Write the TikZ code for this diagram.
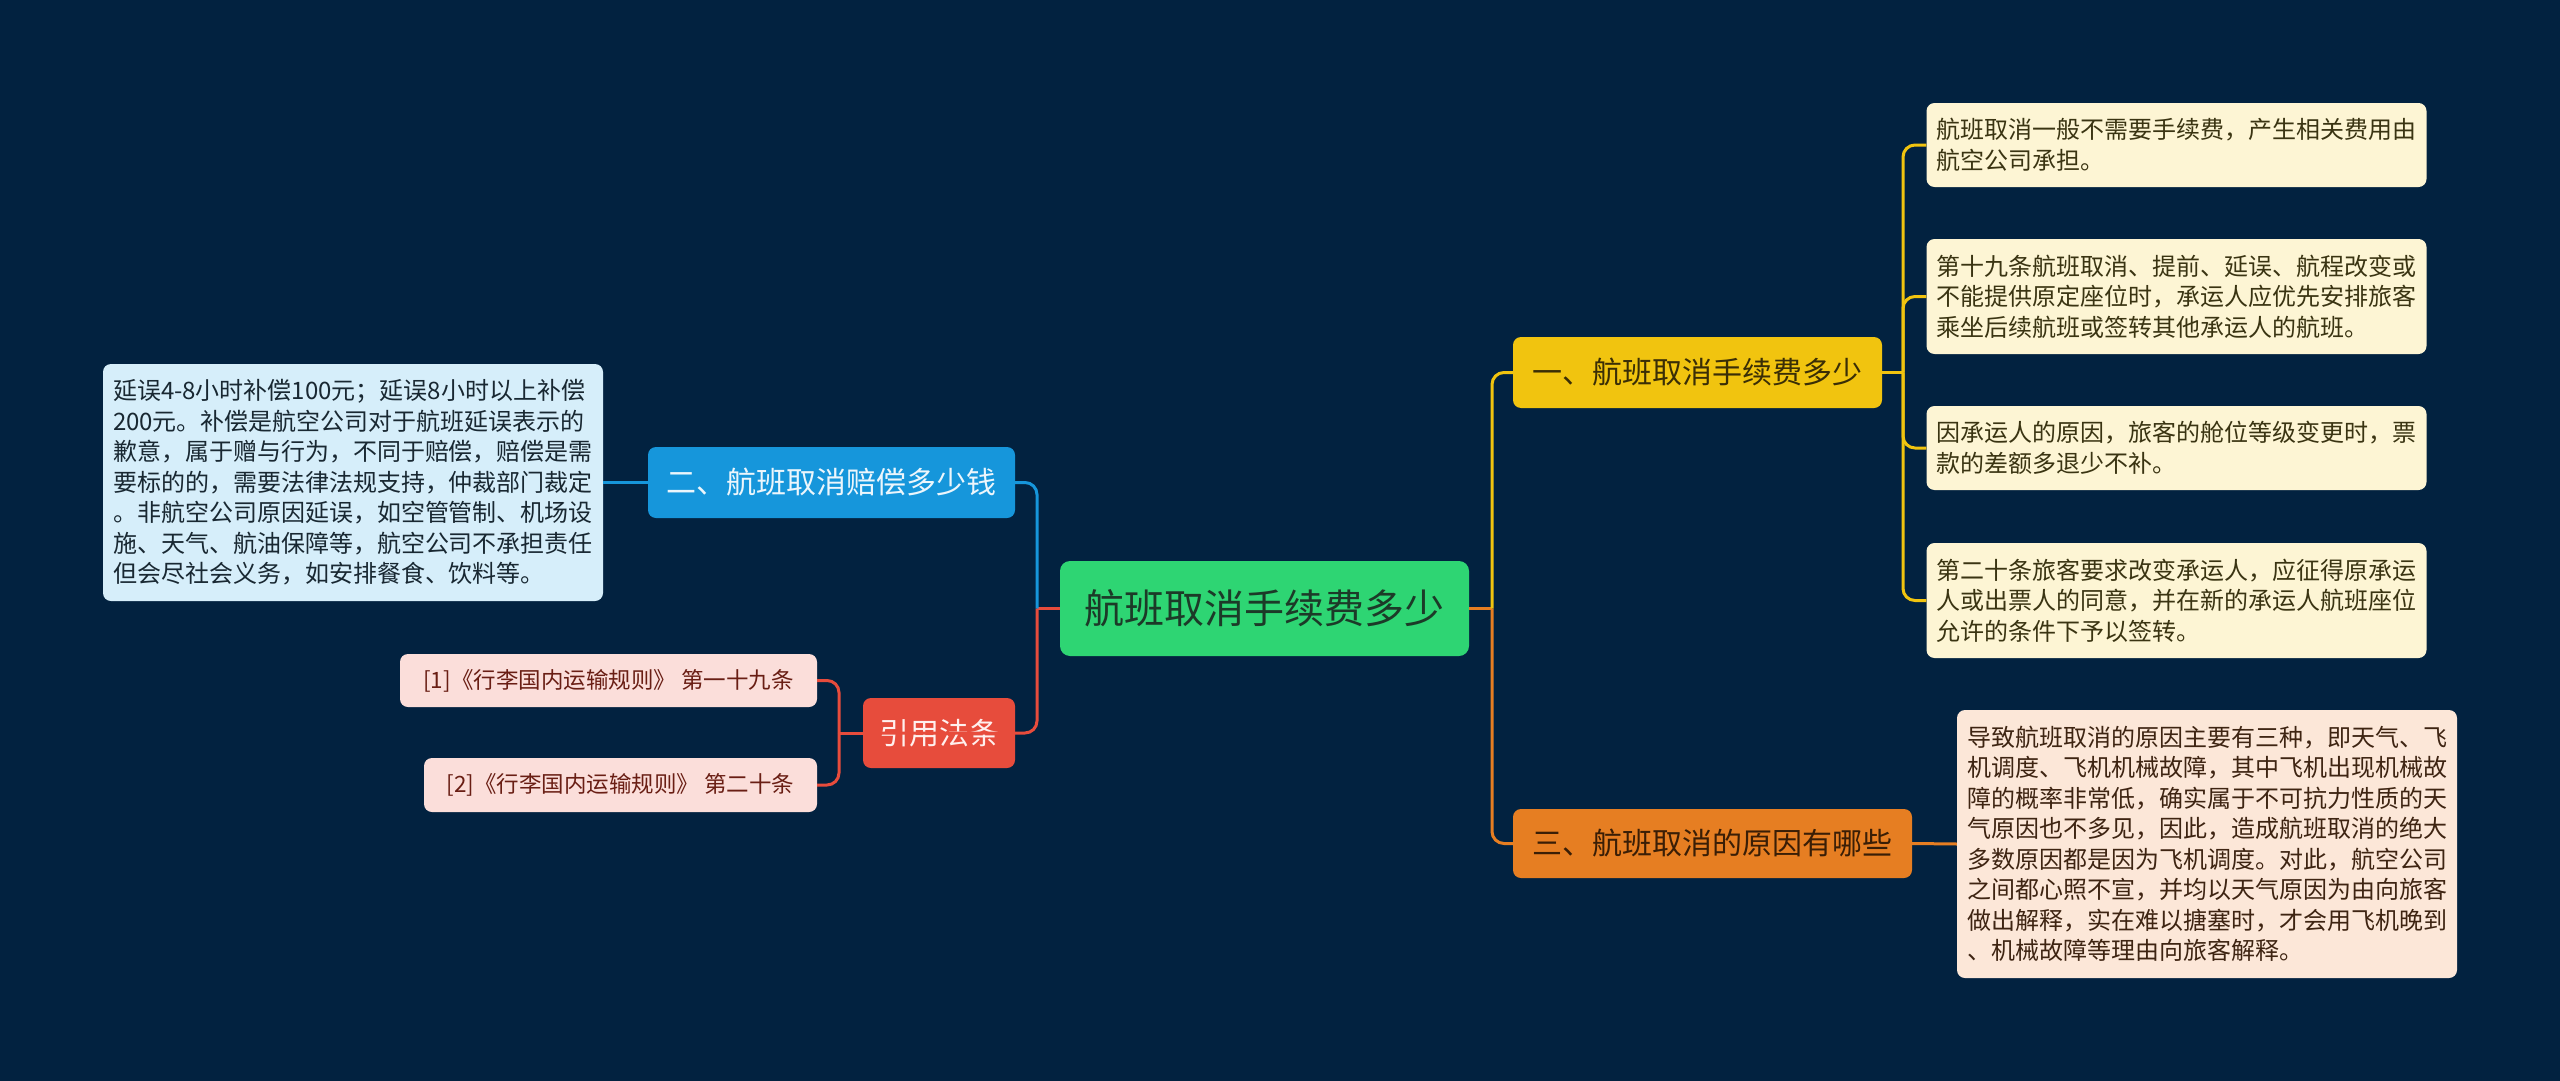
\documentclass[tikz,border=0pt]{standalone}
\usepackage{fontspec}
\setmainfont{Noto Sans CJK SC}
\definecolor{bg}{RGB}{2,34,64}
\definecolor{cgreen}{RGB}{46,213,115}
\definecolor{cgreentxt}{RGB}{28,58,40}
\definecolor{cyellow}{RGB}{241,196,15}
\definecolor{cyellowtxt}{RGB}{58,46,6}
\definecolor{corange}{RGB}{230,126,34}
\definecolor{corangetxt}{RGB}{58,30,6}
\definecolor{cblue}{RGB}{22,150,219}
\definecolor{cbluetxt}{RGB}{236,246,252}
\definecolor{cred}{RGB}{231,76,60}
\definecolor{credtxt}{RGB}{255,240,238}
\definecolor{fpink}{RGB}{251,222,218}
\definecolor{tpink}{RGB}{105,30,20}
\definecolor{fcream}{RGB}{253,245,212}
\definecolor{tcream}{RGB}{58,52,18}
\definecolor{fpeach}{RGB}{252,231,216}
\definecolor{tpeach}{RGB}{62,36,18}
\definecolor{flblue}{RGB}{214,238,250}
\definecolor{tlblue}{RGB}{25,40,50}
\begin{document}
\begin{tikzpicture}[x=1pt,y=-1pt,
  topic/.style={rounded corners=8pt, inner sep=0pt, align=center, font=\fontsize{30}{36}\selectfont},
  maintopic/.style={rounded corners=10pt, inner sep=0pt, align=center, fill=cgreen, text=cgreentxt,
    minimum width=409pt, minimum height=95pt, font=\fontsize{40}{48}\selectfont},
  leaf/.style={rounded corners=8pt, inner xsep=10pt, inner ysep=0pt, text width=480pt, align=left,
    font=\fontsize{24}{30.5}\selectfont},
  refbox/.style={rounded corners=8pt, inner sep=0pt, align=center, fill=fpink, text=tpink,
    font=\fontsize{22.5}{27}\selectfont},
  conn/.style={line width=3pt},
  elbow/.style={conn, rounded corners=12pt}
]
\fill[bg] (0,0) rectangle (2560,1081);
\useasboundingbox (0,0) rectangle (2560,1081);

% main
\node[maintopic] (root) at (1264.5,608.5) {航班取消手续费多少};

% first level
\node[topic, fill=cyellow, text=cyellowtxt, minimum width=369pt, minimum height=71pt] (t1) at (1697.5,372.5) {一、航班取消手续费多少};
\node[topic, fill=corange, text=corangetxt, minimum width=399pt, minimum height=69pt] (t3) at (1712.5,843.5) {三、航班取消的原因有哪些};
\node[topic, fill=cblue, text=cbluetxt, minimum width=367pt, minimum height=71pt] (t2) at (831.5,482.5) {二、航班取消赔偿多少钱};
\node[topic, fill=cred, text=credtxt, minimum width=152pt, minimum height=70pt] (tr) at (939,733) {引用法条};

% refs
\node[refbox, minimum width=417pt, minimum height=53pt] (r1) at (608.5,680.5) {[1]《行李国内运输规则》 第一十九条};
\node[refbox, minimum width=393pt, minimum height=54pt] (r2) at (620.5,785) {[2]《行李国内运输规则》 第二十条};

% leaves of t1
\node[leaf, fill=fcream, text=tcream, minimum height=84pt] (a1) at (2176.5,145) {航班取消一般不需要手续费，产生相关费用由\\航空公司承担。};
\node[leaf, fill=fcream, text=tcream, minimum height=115pt] (a2) at (2176.5,296.5) {第十九条航班取消、提前、延误、航程改变或\\不能提供原定座位时，承运人应优先安排旅客\\乘坐后续航班或签转其他承运人的航班。};
\node[leaf, fill=fcream, text=tcream, minimum height=84pt] (a3) at (2176.5,448) {因承运人的原因，旅客的舱位等级变更时，票\\款的差额多退少不补。};
\node[leaf, fill=fcream, text=tcream, minimum height=115pt] (a4) at (2176.5,600.5) {第二十条旅客要求改变承运人，应征得原承运\\人或出票人的同意，并在新的承运人航班座位\\允许的条件下予以签转。};

% leaf of t3
\node[leaf, fill=fpeach, text=tpeach, minimum height=268pt] (c1) at (2207,844) {导致航班取消的原因主要有三种，即天气、飞\\机调度、飞机机械故障，其中飞机出现机械故\\障的概率非常低，确实属于不可抗力性质的天\\气原因也不多见，因此，造成航班取消的绝大\\多数原因都是因为飞机调度。对此，航空公司\\之间都心照不宣，并均以天气原因为由向旅客\\做出解释，实在难以搪塞时，才会用飞机晚到\\、机械故障等理由向旅客解释。};

% leaf of t2
\node[leaf, fill=flblue, text=tlblue, minimum height=237pt] (b1) at (353,482.5) {延误4-8小时补偿100元；延误8小时以上补偿\\200元。补偿是航空公司对于航班延误表示的\\歉意，属于赠与行为，不同于赔偿，赔偿是需\\要标的的，需要法律法规支持，仲裁部门裁定\\。非航空公司原因延误，如空管管制、机场设\\施、天气、航油保障等，航空公司不承担责任\\但会尽社会义务，如安排餐食、饮料等。};

% junctions
\coordinate (jr) at (1492,608.5);
\coordinate (jl) at (1037,608.5);
\coordinate (ja) at (1903,372.5);
\coordinate (jrf) at (839,733);

% connectors root -> right
\draw[conn, corange] (root.east) -- (jr);
\draw[elbow, cyellow] (jr) |- (t1.west);
\draw[elbow, corange] (jr) |- (t3.west);
% connectors root -> left
\draw[conn, cred] (root.west) -- (jl);
\draw[elbow, cblue] (jl) |- (t2.east);
\draw[elbow, cred] (jl) |- (tr.west);
% t1 -> leaves
\draw[conn, cyellow] (t1.east) -- (ja);
\draw[elbow, cyellow] (ja) |- (a1.west);
\draw[elbow, cyellow] (ja) |- (a2.west);
\draw[elbow, cyellow] (ja) |- (a3.west);
\draw[elbow, cyellow] (ja) |- (a4.west);
% t3 -> leaf
\draw[conn, corange] (t3.east) -- (c1.west);
% t2 -> leaf
\draw[conn, cblue] (t2.west) -- (b1.east);
% refs
\draw[conn, cred] (tr.west) -- (jrf);
\draw[elbow, cred] (jrf) |- (r1.east);
\draw[elbow, cred] (jrf) |- (r2.east);
\end{tikzpicture}
\end{document}
